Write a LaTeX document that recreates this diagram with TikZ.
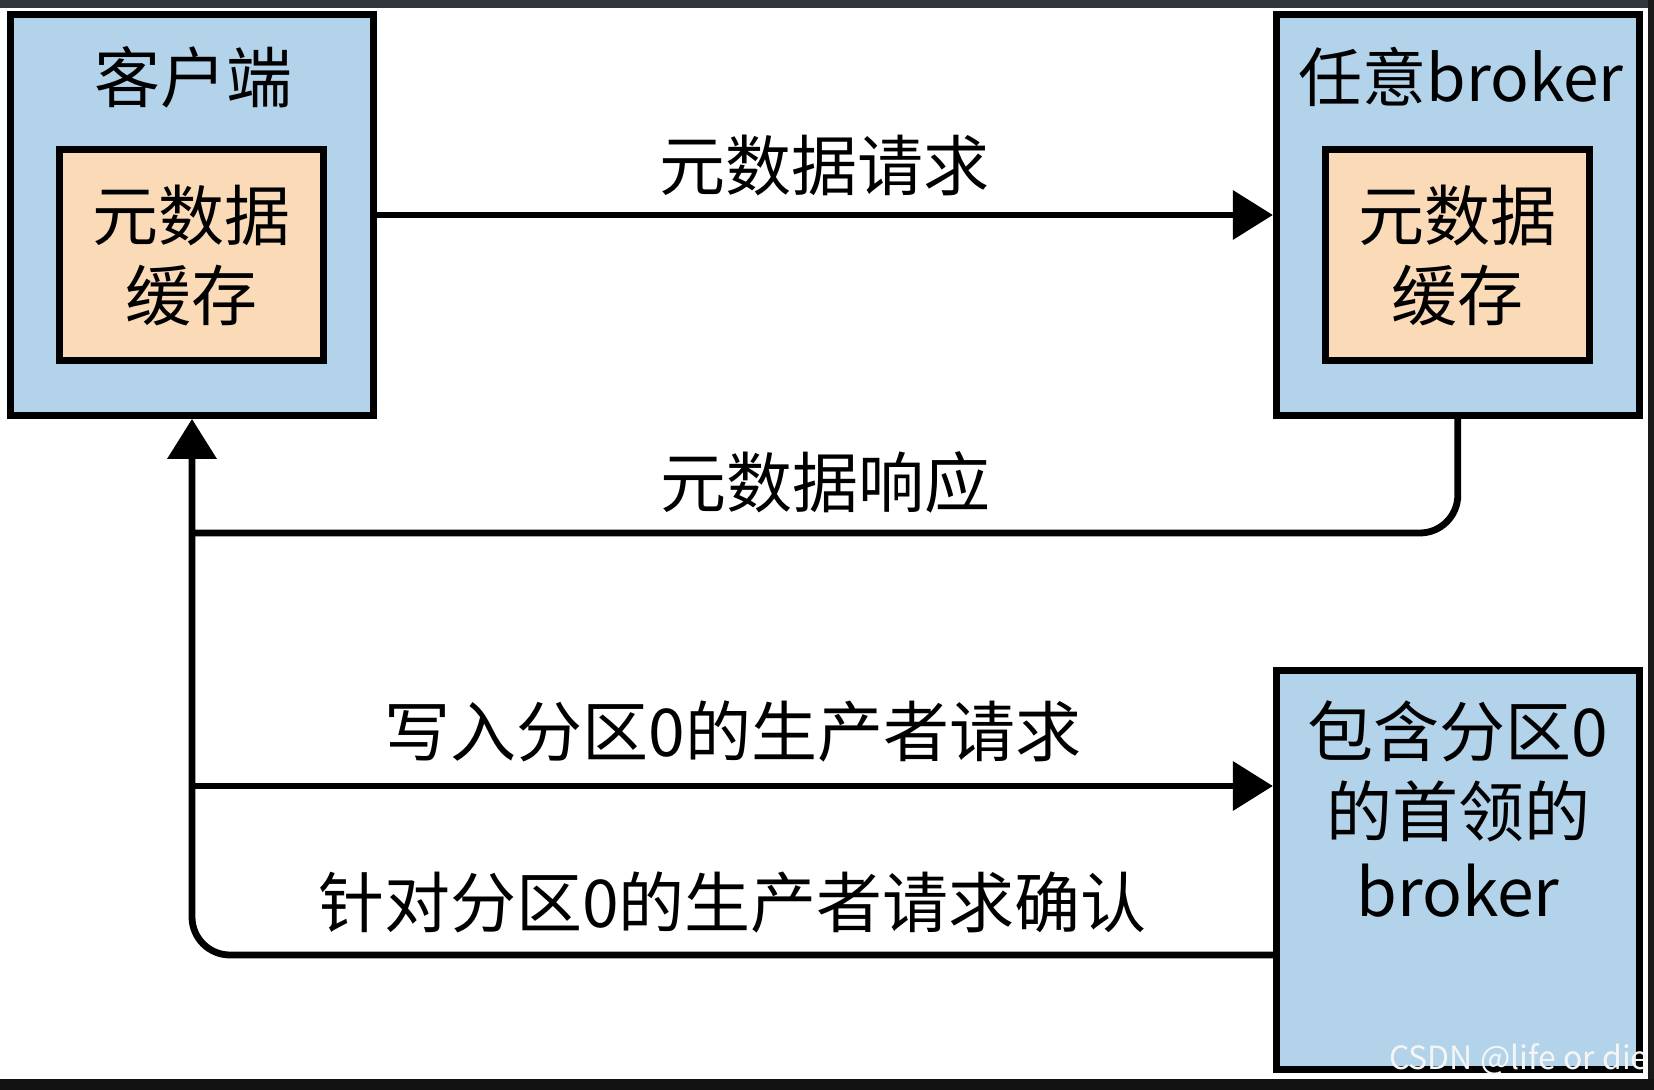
\documentclass[tikz,border=0pt]{standalone}
\usepackage{fontspec}
\setmainfont{Noto Sans CJK SC}
\usepackage{xcolor}
\usetikzlibrary{arrows.meta,positioning}

\definecolor{boxblue}{HTML}{B2D3EA}
\definecolor{cachepeach}{HTML}{FBDAB8}
\definecolor{framedark}{HTML}{30363C}

\begin{document}
\begin{tikzpicture}[
  x=0.5pt, y=-0.5pt,
  font=\fontsize{33}{40}\selectfont,
  outer/.style={draw, line width=3.4pt, fill=boxblue, minimum width=181.5pt,
                minimum height=200.5pt, inner sep=0pt},
  cache/.style={draw, line width=3.4pt, fill=cachepeach, minimum width=132pt,
                minimum height=105.5pt, align=center, inner sep=0pt},
  title/.style={inner sep=0pt, align=center},
  arr/.style={-{Triangle[length=20pt, width=24pt]}, line width=3.4pt},
  link/.style={line width=3.4pt, rounded corners=19pt},
  note/.style={inner sep=0pt},
]

%% --- Canvas ---
\useasboundingbox (0,0) rectangle (1654,1090);
\fill[white] (0,0) rectangle (1654,1090);
\fill[framedark] (0,0) rectangle (1654,8);
\fill[black!90] (1648,0) rectangle (1654,1090);
\fill[black!93] (0,1079) rectangle (1654,1090);

%% --- Nodes ---
\node[outer] (client) at (192,215) {};
\node[title] (ctitle) at (193,77) {客户端};
\node[cache] (ccache) at (191.5,255) {元数据\\缓存};

\node[outer, right=448pt of client] (bkr) {};
\node[title, font=\fontsize{32}{40}\selectfont] (btitle) at (1461,77) {任意broker};
\node[cache] (bcache) at (1457.5,255) {元数据\\缓存};

\node[outer, below=124pt of bkr, minimum height=199.5pt] (leader) {};
\node[title] (ltitle) at (1458,809) {包含分区0\\的首领的\\broker};

\coordinate (respjoin) at (193,533);
\coordinate (prodout)  at (193,786);
\coordinate (ackin)    at (leader.west |- 0,955);

%% --- Arrows ---
\draw[arr] (client) -- node[above=8pt, note]{元数据请求} (bkr);
\draw[link] (bkr.south) |- node[pos=0.75, above=8pt, note]{元数据响应} (respjoin);
\draw[arr] (prodout) -- node[above=10pt, note]{写入分区0的生产者请求} (prodout -| leader.west);
\draw[arr, rounded corners=19pt] (ackin) -- node[above=9pt, note]{针对分区0的生产者请求确认} (ackin -| client.south)
      -- (client.south);

%% --- Watermark ---
\node[note, font=\fontsize{16}{18}\selectfont, text=white!92!gray] (wm) at (1519,1059) {CSDN @life or die};

\end{tikzpicture}
\end{document}
